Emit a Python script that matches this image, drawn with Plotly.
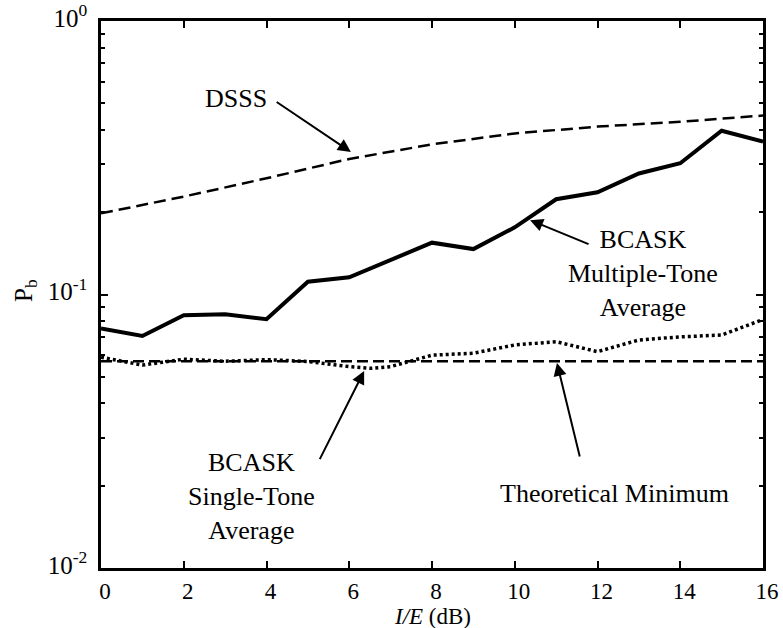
import math
import plotly.graph_objects as go

# ---- data ----
x_multi = list(range(17))
pb_multi = [0.0752, 0.0705, 0.084, 0.0847, 0.0812, 0.1114, 0.1156, 0.134, 0.1547,
            0.1466, 0.176, 0.223, 0.2364, 0.277, 0.302, 0.397, 0.362]

x_dsss = [0, 2, 4, 6, 8, 10, 12, 14, 16]
pb_dsss = [0.198, 0.228, 0.266, 0.313, 0.354, 0.388, 0.411, 0.428, 0.451]

x_single = [0, 1, 2, 3, 4, 5, 6, 6.5, 7, 8, 9, 10, 11, 12, 13, 14, 15, 16]
pb_single = [0.059, 0.0552, 0.058, 0.057, 0.0578, 0.0569, 0.0545, 0.0537, 0.0545,
             0.060, 0.061, 0.0654, 0.0672, 0.0618, 0.0682, 0.070, 0.0711, 0.081]

x_theory = [0, 16]
pb_theory = [0.057, 0.057]

x_ticks = [0, 2, 4, 6, 8, 10, 12, 14, 16]
y_ticks = [0.01, 0.1, 1]
y_ticktext = ["10<sup>-2</sup>", "10<sup>-1</sup>", "10<sup>0</sup>"]
y_minor = [m * d for d in (0.01, 0.1) for m in range(2, 10)]

FONT = "Liberation Serif"

fig = go.Figure()
fig.add_trace(go.Scatter(x=x_dsss, y=pb_dsss, mode="lines",
                         line=dict(color="black", width=2.5, dash="12px,6px")))
fig.add_trace(go.Scatter(x=x_multi, y=pb_multi, mode="lines",
                         line=dict(color="black", width=4)))
fig.add_trace(go.Scatter(x=x_single, y=pb_single, mode="lines",
                         line=dict(color="black", width=3.5, dash="3px,3px")))
fig.add_trace(go.Scatter(x=x_theory, y=pb_theory, mode="lines",
                         line=dict(color="black", width=2.5, dash="11px,5px")))

ann_font = dict(family=FONT, size=26, color="black")


def arrow(hx, hy, tx, ty):
    # head / tail given in data units (y as P_b value)
    fig.add_annotation(x=hx, y=math.log10(hy), ax=tx, ay=math.log10(ty),
                       xref="x", yref="y", axref="x", ayref="y",
                       text="", showarrow=True, arrowhead=2, arrowsize=1.3,
                       arrowwidth=2, arrowcolor="black")


arrow(6.04, 0.332, 4.21, 0.510)     # DSSS
arrow(10.37, 0.187, 11.82, 0.152)   # Multiple-tone
arrow(6.36, 0.0525, 5.27, 0.0247)   # Single-tone
arrow(11.02, 0.0562, 11.58, 0.02525)  # Theoretical minimum


def label(px, py, txt):
    fig.add_annotation(x=px, y=py, xref="paper", yref="paper", text=txt,
                       xanchor="center", yanchor="middle",
                       showarrow=False, font=ann_font)


label(0.204, 0.859, "DSSS")
label(0.8187, 0.5384, "BCASK<br>Multiple-Tone<br>Average")
label(0.2266, 0.1316, "BCASK<br>Single-Tone<br>Average")
label(0.7764, 0.1353, "Theoretical Minimum")

# axis titles
fig.add_annotation(x=0.5, y=-0.089, xref="paper", yref="paper",
                   xanchor="center", yanchor="middle",
                   text="<i>I/E</i> (dB)", showarrow=False,
                   font=dict(family=FONT, size=23, color="black"))
fig.add_annotation(x=-0.115, y=0.508, xref="paper", yref="paper",
                   xanchor="center", yanchor="middle",
                   text="P<sub>b</sub>", showarrow=False, textangle=-90,
                   font=dict(family=FONT, size=25, color="black"))

fig.update_xaxes(range=[0, 16], tickvals=x_ticks, ticks="inside", ticklen=7,
                 tickwidth=2, tickcolor="black", showline=True, linewidth=2.5,
                 linecolor="black", mirror="ticks", showgrid=False, zeroline=False,
                 tickfont=dict(family=FONT, size=23, color="black"),
                 ticklabelshift=4, ticklabelstandoff=1)
fig.update_yaxes(type="log", range=[-2, 0], tickvals=y_ticks, ticktext=y_ticktext,
                 ticks="inside", ticklen=7, tickwidth=2, tickcolor="black",
                 showline=True, linewidth=2.5, linecolor="black", mirror="ticks",
                 showgrid=False, zeroline=False, ticklabelstandoff=6,
                 ticklabelshift=-3,
                 tickfont=dict(family=FONT, size=25, color="black"),
                 minor=dict(tickvals=y_minor, ticks="inside", ticklen=4,
                            tickwidth=1.5, tickcolor="black", showgrid=False))

fig.update_layout(width=783, height=628, showlegend=False,
                  plot_bgcolor="white", paper_bgcolor="white",
                  margin=dict(l=101, r=20, t=21, b=60, autoexpand=False))

fig.write_html("out.html")
